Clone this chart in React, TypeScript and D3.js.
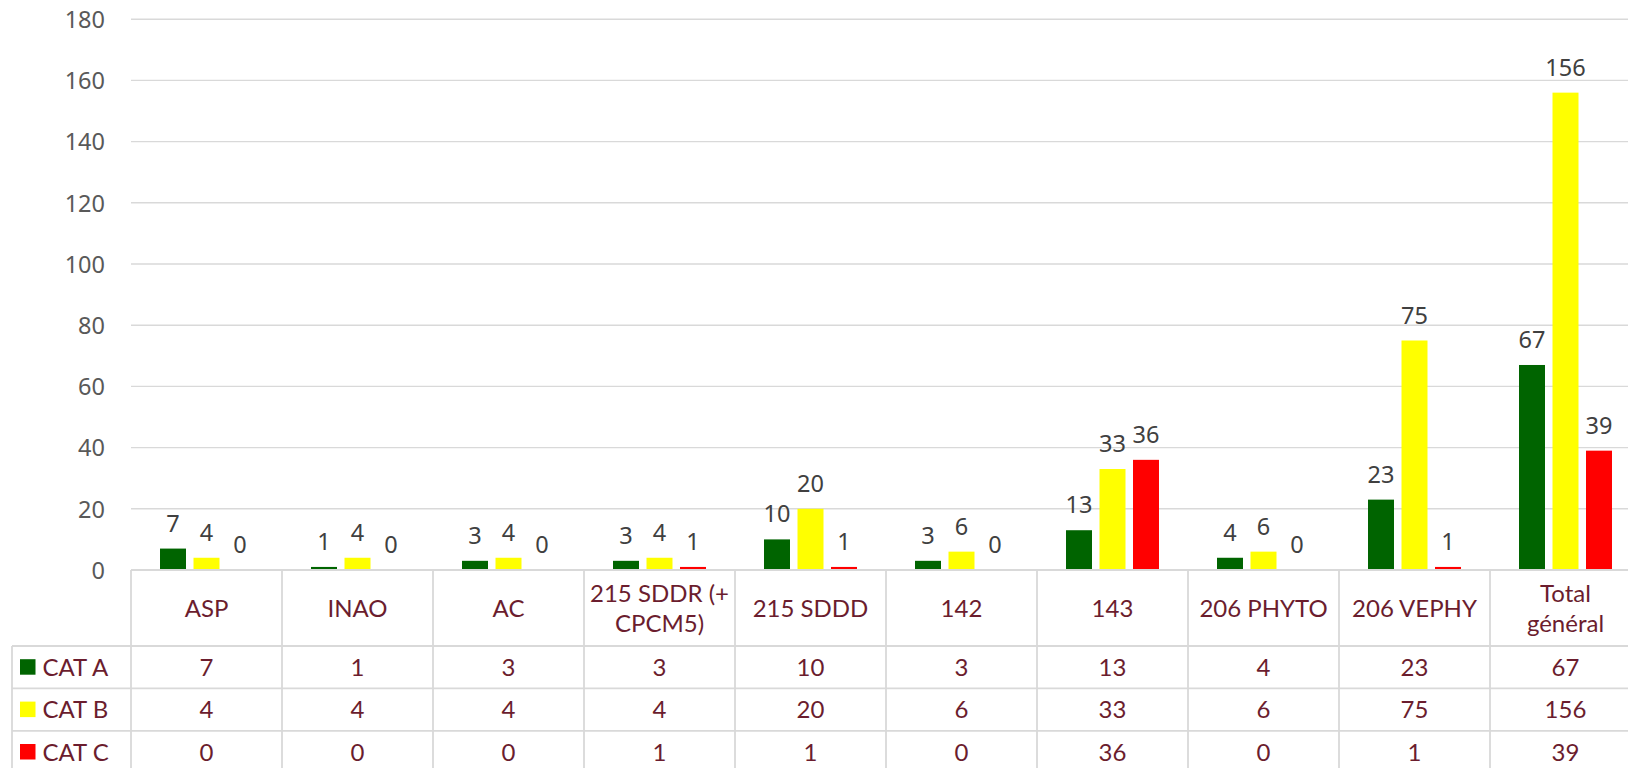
import React, { useEffect, useRef } from 'react';
import * as d3 from 'd3';

// Category labels ("\n" marks where the table header wraps)
const CATEGORIES = [
  'ASP', 'INAO', 'AC', '215 SDDR (+\nCPCM5)', '215 SDDD', '142', '143',
  '206 PHYTO', '206 VEPHY', 'Total\ngénéral',
];
const SERIES = ['CAT A', 'CAT B', 'CAT C'];
const CAT_A = [7, 1, 3, 3, 10, 3, 13, 4, 23, 67];
const CAT_B = [4, 4, 4, 4, 20, 6, 33, 6, 75, 156];
const CAT_C = [0, 0, 0, 1, 1, 0, 36, 0, 1, 39];
const Y_TICKS = [0, 20, 40, 60, 80, 100, 120, 140, 160, 180];

const COLORS: Record<string, string> = {
  'CAT A': '#006400',
  'CAT B': '#FFFF00',
  'CAT C': '#FF0000',
};
const TABLE_TEXT = '#6B1D2E';
const GRID = '#D9D9D9';

export default function App() {
  const svgRef = useRef<SVGSVGElement>(null);

  useEffect(() => {
    document.body.style.margin = '0';
    const width = 1628;
    const height = 768;
    const plotLeft = 131;
    const colW = 151;
    const zeroY = 570;
    const headerBottom = 646;
    const rowH = 42.4;
    const legendLeft = 12;
    const tableRight = plotLeft + colW * CATEGORIES.length;

    const values: Record<string, number[]> = { 'CAT A': CAT_A, 'CAT B': CAT_B, 'CAT C': CAT_C };

    const svg = d3.select(svgRef.current);
    svg.selectAll('*').remove();
    svg.attr('width', width).attr('height', height).attr('viewBox', `0 0 ${width} ${height}`);

    const x = d3.scaleBand<string>().domain(CATEGORIES).range([plotLeft, tableRight]);
    const xSub = d3.scaleBand<string>().domain(SERIES).range([0, x.bandwidth()])
      .paddingInner(0.224).paddingOuter(0.866);
    const y = d3.scaleLinear().domain([0, 180]).range([zeroY, 19.2]);

    // gridlines + y tick labels
    Y_TICKS.forEach(t => {
      if (t > 0) {
        svg.append('line').attr('x1', plotLeft).attr('x2', width)
          .attr('y1', y(t)).attr('y2', y(t)).attr('stroke', GRID).attr('stroke-width', 1.4);
      }
      svg.append('text').attr('x', 105).attr('y', y(t) + 8.8).attr('text-anchor', 'end')
        .style('font-family', '"Noto Sans", sans-serif').style('font-size', '23.5px')
        .style('fill', '#595959').text(t);
    });

    // bars + data labels
    CATEGORIES.forEach((cat, i) => {
      SERIES.forEach(s => {
        const v = values[s][i];
        const bx = (x(cat) as number) + (xSub(s) as number);
        if (v > 0) {
          svg.append('rect').attr('x', bx).attr('y', y(v))
            .attr('width', xSub.bandwidth()).attr('height', zeroY - y(v))
            .attr('fill', COLORS[s]);
        }
        svg.append('text').attr('x', bx + xSub.bandwidth() / 2).attr('y', y(v) - 17)
          .attr('text-anchor', 'middle')
          .style('font-family', '"Noto Sans", sans-serif').style('font-size', '23.5px')
          .style('fill', '#404040').text(v);
      });
    });

    // data table
    const tableFont = 'Lato, sans-serif';
    const rowsBottom = headerBottom + rowH * SERIES.length;
    const line = (x1: number, y1: number, x2: number, y2: number) =>
      svg.append('line').attr('x1', x1).attr('y1', y1).attr('x2', x2).attr('y2', y2)
        .attr('stroke', GRID).attr('stroke-width', 1.8);

    line(plotLeft, zeroY, tableRight, zeroY);
    line(legendLeft, headerBottom, tableRight, headerBottom);
    SERIES.forEach((_, r) => line(legendLeft, headerBottom + rowH * (r + 1), tableRight, headerBottom + rowH * (r + 1)));
    line(legendLeft, headerBottom, legendLeft, rowsBottom);
    CATEGORIES.forEach(cat => line(x(cat) as number, zeroY, x(cat) as number, rowsBottom));
    line(tableRight, zeroY, tableRight, rowsBottom);

    // header cells
    CATEGORIES.forEach(cat => {
      const lines = cat.split('\n');
      const cx = (x(cat) as number) + x.bandwidth() / 2;
      const midY = (zeroY + headerBottom) / 2;
      const lineH = 30;
      lines.forEach((ln, k) => {
        svg.append('text').attr('x', cx)
          .attr('y', midY + 8.5 + (k - (lines.length - 1) / 2) * lineH)
          .attr('text-anchor', 'middle')
          .style('font-family', tableFont).style('font-size', '24px')
          .style('fill', TABLE_TEXT).text(ln);
      });
    });

    // value rows with legend keys
    SERIES.forEach((s, r) => {
      const midY = headerBottom + rowH * r + rowH / 2;
      svg.append('rect').attr('x', 20).attr('y', midY - 8).attr('width', 15.5).attr('height', 15.5)
        .attr('fill', COLORS[s]);
      svg.append('text').attr('x', 42.5).attr('y', midY + 8.5)
        .style('font-family', tableFont).style('font-size', '24px')
        .style('fill', TABLE_TEXT).text(s);
      CATEGORIES.forEach((cat, i) => {
        svg.append('text').attr('x', (x(cat) as number) + x.bandwidth() / 2).attr('y', midY + 8.5)
          .attr('text-anchor', 'middle')
          .style('font-family', tableFont).style('font-size', '24px')
          .style('fill', TABLE_TEXT).text(values[s][i]);
      });
    });
  }, []);

  return (
    <div style={{ width: '1628px', height: '768px', background: 'white', overflow: 'hidden' }}>
      <svg ref={svgRef} style={{ display: 'block' }}></svg>
    </div>
  );
}
